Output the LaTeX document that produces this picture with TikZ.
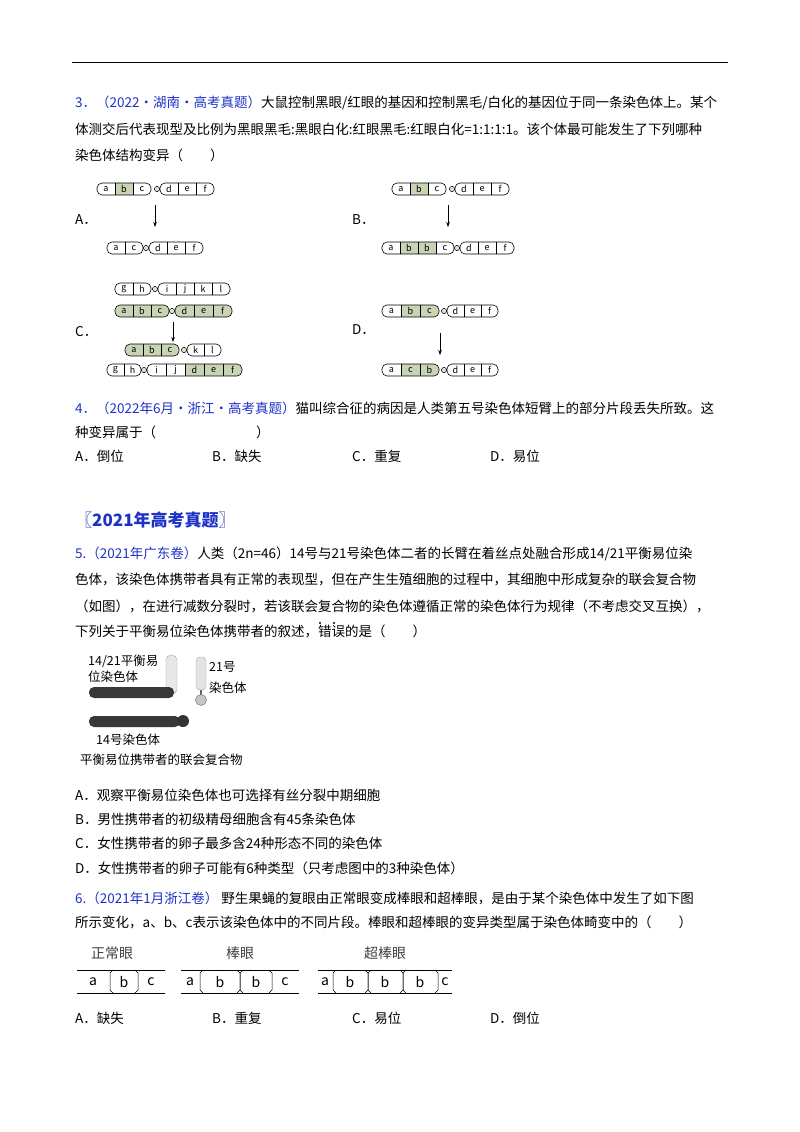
\documentclass[tikz,border=0pt]{standalone}
\usepackage{fontspec}
\setmainfont{Noto Sans CJK SC}
\usetikzlibrary{arrows.meta}
\definecolor{qblue}{RGB}{30,50,200}
\definecolor{segg}{RGB}{200,212,180}
\newcommand\arm[5]{%
 \begin{scope}
  \clip[rounded corners=5pt] (#1,#2-6) rectangle ({#1+#3*#4},#2+6);
  \foreach \l/\f [count=\i] in {#5} {
    \ifnum\f=1 \fill[segg] ({#1+(\i-1)*#4},#2-6) rectangle ++(#4,12);\fi
    \node[font=\fontsize{9}{9}\selectfont,inner sep=0] at ({#1+(\i-0.5)*#4},#2) {\l};
  }
 \end{scope}
 \draw[line width=0.6pt,rounded corners=5pt] (#1,#2-6) rectangle ({#1+#3*#4},#2+6);
 \pgfmathtruncatemacro\nm{#3-1}%
 \foreach \i in {1,...,\nm} \draw[line width=0.5pt] ({#1+\i*#4},#2-6) -- ({#1+\i*#4},#2+6);
}
\newcommand\cen[2]{\draw[line width=0.5pt,fill=segg!60] (#1,#2) circle (2.6);}
\newcommand\lbr[3]{\draw[line width=0.5pt] ({#1+3},#2) -- (#1,#2+3) -- (#1,#3-3) -- ({#1+3},#3);}
\newcommand\rbr[3]{\draw[line width=0.5pt] ({#1-3},#2) -- (#1,#2+3) -- (#1,#3-3) -- ({#1-3},#3);}
\newcommand\bbr[3]{\lbr{#1}{#2}{#3}\rbr{#1}{#2}{#3}}
\begin{document}
\begin{tikzpicture}[x=1pt,y=-1pt,
  txt/.style={anchor=west,inner sep=0,font=\fontsize{13.5}{16}\selectfont},
  arr/.style={-{Stealth[length=5pt,width=3.5pt]},line width=0.6pt}]
\useasboundingbox (0,0) rectangle (800,1132);
\fill[white] (0,0) rectangle (800,1132);
\draw[line width=1pt] (72,63) -- (728,63);
% Q3
\node[txt] (q3a) at (75,103) {{\color{qblue}3．（2022·湖南·高考真题）}大鼠控制黑眼/红眼的基因和控制黑毛/白化的基因位于同一条染色体上。某个};
\node[txt] (q3b) at (75,129) {体测交后代表现型及比例为黑眼黑毛:黑眼白化:红眼黑毛:红眼白化=1:1:1:1。该个体最可能发生了下列哪种};
\node[txt] (q3c) at (75,155) {染色体结构变异（\quad\quad）};
\node[txt] (la) at (75,220) {A．};
\node[txt] (lb) at (352,220) {B．};
\node[txt] (lc) at (75,332) {C．};
\node[txt] (ld) at (352,330) {D．};
% A
\arm{97}{189}{3}{18}{a/0,b/1,c/0}\cen{157}{189}\arm{160}{189}{3}{18}{d/0,e/0,f/0}
\coordinate (a1) at (155,205); \coordinate (a2) at (155,227); \draw[arr] (a1) -- (a2);
\arm{107}{248}{2}{18}{a/0,c/0}\cen{146}{248}\arm{149}{248}{3}{18}{d/0,e/0,f/0}
% B
\arm{392}{189}{3}{18}{a/0,b/1,c/0}\cen{452}{189}\arm{455}{189}{3}{18}{d/0,e/0,f/0}
\coordinate (b1) at (448,205); \coordinate (b2) at (448,227); \draw[arr] (b1) -- (b2);
\arm{382}{248}{4}{18}{a/0,b/1,b/1,c/0}\cen{457}{248}\arm{460}{248}{3}{18}{d/0,e/0,f/0}
% C
\arm{115}{289}{2}{18}{g/0,h/0}\cen{155}{289}\arm{158}{289}{4}{18}{i/0,j/0,k/0,l/0}
\arm{115}{311}{3}{18}{a/1,b/1,c/1}\cen{172}{311}\arm{175}{311}{3}{19}{d/1,e/1,f/1}
\coordinate (c1) at (173,322); \coordinate (c2) at (173,342); \draw[arr] (c1) -- (c2);
\arm{125}{350}{3}{18}{a/1,b/1,c/1}\cen{184}{350}\arm{187}{350}{2}{17}{k/0,l/0}
\arm{107}{370}{2}{17}{g/0,h/0}\cen{144}{370}\arm{147}{370}{5}{19}{i/0,j/0,d/1,e/1,f/1}
% D
\arm{382}{311}{3}{19}{a/0,b/1,c/1}\cen{444}{311}\arm{447}{311}{3}{17}{d/0,e/0,f/0}
\coordinate (d1) at (440,333); \coordinate (d2) at (440,355); \draw[arr] (d1) -- (d2);
\arm{382}{370}{3}{19}{a/0,c/1,b/1}\cen{444}{370}\arm{447}{370}{3}{17}{d/0,e/0,f/0}
% Q4
\node[txt] (q4a) at (75,408) {{\color{qblue}4．（2022年6月·浙江·高考真题）}猫叫综合征的病因是人类第五号染色体短臂上的部分片段丢失所致。这};
\node[txt] (q4b) at (75,432) {种变异属于（\hspace{100pt}）};
\node[txt] (q4A) at (75,456) {A．倒位};
\node[txt] (q4B) at (212,456) {B．缺失};
\node[txt] (q4C) at (352,456) {C．重复};
\node[txt] (q4D) at (490,456) {D．易位};
% header
\node[txt,font=\fontsize{17}{20}\selectfont\bfseries,text=qblue] (hd) at (75,520) {\textbf{〖}2021年高考真题\textbf{〗}};
% Q5
\node[txt] (q5a) at (75,554) {{\color{qblue}5.（2021年广东卷）}人类（2n=46）14号与21号染色体二者的长臂在着丝点处融合形成14/21平衡易位染};
\node[txt] (q5b) at (75,580) {色体，该染色体携带者具有正常的表现型，但在产生生殖细胞的过程中，其细胞中形成复杂的联会复合物};
\node[txt] (q5c) at (75,606) {（如图），在进行减数分裂时，若该联会复合物的染色体遵循正常的染色体行为规律（不考虑交叉互换），};
\node[txt] (q5d) at (75,631) {下列关于平衡易位染色体携带者的叙述，错误的是（\quad\quad）};
\fill (320,623) circle (1.1); \fill (334,623) circle (1.1);
% fig 5
\draw[gray!70,fill=gray!18,rounded corners=5] (166,655) rectangle (177,694);
\fill[black!78,rounded corners=5] (89,687) rectangle (174,698);
\draw[gray!70,fill=gray!22,rounded corners=4] (196,657) rectangle (206,690);
\draw[black!60,line width=1.2pt] (201,690) -- (201,695);
\draw[black!60,fill=gray!45] (201,700) circle (5.5);
\fill[black!78,rounded corners=5] (89,716) rectangle (180,727);
\fill[black!80] (183,721) circle (6);
\node[txt,font=\fontsize{12.5}{14}\selectfont] (f1) at (88,661) {14/21平衡易};
\node[txt,font=\fontsize{12.5}{14}\selectfont] (f2) at (88,677) {位染色体};
\node[txt,font=\fontsize{12.5}{14}\selectfont] (f3) at (209,667) {21号};
\node[txt,font=\fontsize{12.5}{14}\selectfont] (f4) at (209,688) {染色体};
\node[txt,font=\fontsize{12.5}{14}\selectfont] (f5) at (96,740) {14号染色体};
\node[txt,font=\fontsize{12.5}{14}\selectfont] (f6) at (80,760) {平衡易位携带者的联会复合物};
\node[txt] (o5a) at (75,795) {A．观察平衡易位染色体也可选择有丝分裂中期细胞};
\node[txt] (o5b) at (75,819) {B．男性携带者的初级精母细胞含有45条染色体};
\node[txt] (o5c) at (75,843) {C．女性携带者的卵子最多含24种形态不同的染色体};
\node[txt] (o5d) at (75,868) {D．女性携带者的卵子可能有6种类型（只考虑图中的3种染色体）};
% Q6
\node[txt] (q6a) at (75,898) {{\color{qblue}6.（2021年1月浙江卷）}\ 野生果蝇的复眼由正常眼变成棒眼和超棒眼，是由于某个染色体中发生了如下图};
\node[txt] (q6b) at (75,922) {所示变化，a、b、c表示该染色体中的不同片段。棒眼和超棒眼的变异类型属于染色体畸变中的（\quad\quad）};
\node[font=\fontsize{14}{16}\selectfont,text=black!75] (e1) at (112,953) {正常眼};
\node[font=\fontsize{14}{16}\selectfont,text=black!75] (e2) at (240,953) {棒眼};
\node[font=\fontsize{14}{16}\selectfont,text=black!75] (e3) at (385,953) {超棒眼};
\foreach \xa/\xb in {77/165,181/299,318/452} {\draw[line width=0.8pt] (\xa,970) -- (\xb,970); \draw[line width=0.8pt] (\xa,993) -- (\xb,993);}
\lbr{110}{970}{993}\rbr{138}{970}{993}
\lbr{200}{970}{993}\bbr{240}{970}{993}\rbr{272}{970}{993}
\lbr{333}{970}{993}\bbr{368}{970}{993}\bbr{403}{970}{993}\rbr{438}{970}{993}
\foreach \x/\l in {93/a,124/b,151/c,190/a,220/b,256/b,285/c,325/a,350/b,385/b,420/b,445/c}
  \node[font=\fontsize{14}{16}\selectfont\rmfamily,inner sep=0] at (\x,982) {\l};
\node[txt] (o6A) at (75,1018) {A．缺失};
\node[txt] (o6B) at (212,1018) {B．重复};
\node[txt] (o6C) at (352,1018) {C．易位};
\node[txt] (o6D) at (490,1018) {D．倒位};
\end{tikzpicture}
\end{document}
